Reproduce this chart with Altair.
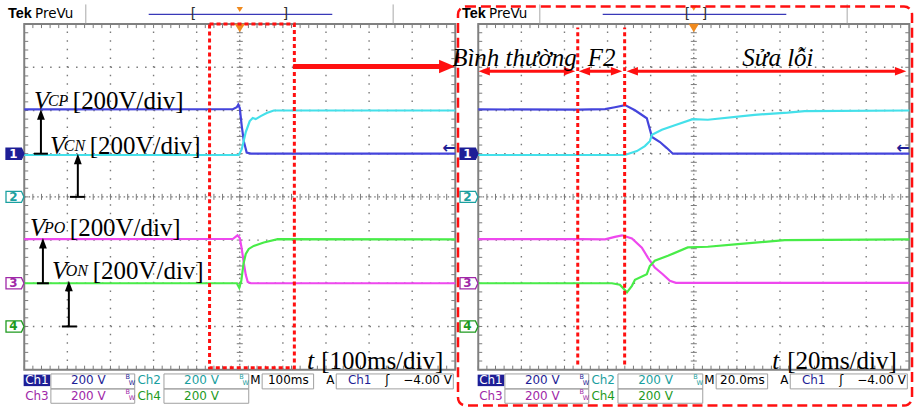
import numpy as np
import pandas as pd
import altair as alt

# ---------------- data ----------------
CHANNELS = ["Ch1", "Ch2", "Ch3", "Ch4"]
TRACE_COLORS = ["#4444DC", "#44E0EA", "#EE48EE", "#48EC48"]
CH_OFFSET_DIV = [1, 0, -2, -3]        # channel ground markers (divisions from centre)
VOLTS_PER_DIV = 200

# left screen: 100 ms/div, trigger at the centre (t = 0 ms)
L_T_CH1 = [-500, -16, -7, -3.5, 0, 4.6, 9.3, 16, 25.5, 500]
L_V_CH1 = [205, 206, 215, 227, 211, 128, 58, 5, 0, 0]
L_T_CH2 = [-500, -2.3, 4.6, 13.9, 23.1, 30.1, 37.0, 48.6, 62.5, 78.7, 500]
L_V_CH2 = [194, 194, 221, 300, 351, 365, 360, 374, 388, 400, 400]
L_T_CH3 = [-500, -16.2, -5.3, 0, 4.6, 9.3, 13.9, 18.5, 25.5, 500]
L_V_CH3 = [204, 205, 222, 210, 159, 94, 39, 6, 0, 0]
L_T_CH4 = [-500, -6.9, -1.2, 3.5, 8.6, 13.9, 20.8, 32.4, 55.6, 88.0, 500]
L_V_CH4 = [200, 200, 179, 211, 290, 336, 359, 373, 389, 404, 403]

# right screen: 20 ms/div
R_T_CH1 = [-100, -53.7, -41.2, -36.6, -31.9, -27.3, -21.8, -19.4, -15.7, -12.5, -9.7, 100]
R_V_CH1 = [205, 204, 206, 215, 225, 201, 164, 77, 54, 26, 0, 0]
R_T_CH2 = [-100, -32, -26.4, -22.7, -20.4, -19.4, -14.8, -8.8, -0.5, 6.5, 28.2, 43.5, 51.4, 100]
R_V_CH2 = [194, 194, 212, 235, 258, 288, 311, 332, 360, 357, 380, 390, 397, 400]
R_T_CH3 = [-100, -52.8, -41.2, -36.6, -33.3, -28.7, -24.1, -21.3, -18.1, -14.4, -11.1, -8.3, 100]
R_V_CH3 = [204, 204, 203, 215, 222, 207, 165, 119, 73, 42, 11, 2, 2]
R_T_CH4 = [-100, -38.0, -34.3, -31.0, -28.7, -27.3, -21.8, -20.4, -18.1, -12.0, -2.8, 6.5, 20.4, 42.1, 100]
R_V_CH4 = [200, 200, 193, 158, 188, 216, 242, 280, 304, 327, 366, 369, 381, 400, 403]

# status bar texts
ROW1_TEXT = ["Ch1", "200 V", "Ch2", "200 V", "M", "A", "Ch1", "ʃ", "−4.00 V"]
ROW2_TEXT = ["Ch3", "200 V", "Ch4", "200 V"]
TIMEBASE = ["100ms", "20.0ms"]
LABEL_SUBS = ["CP", "CN", "PO", "ON"]
UNIT_LABEL = "[200V/div]"
TIME_LABELS = ["[100ms/div]", "[20ms/div]"]
PHASE_LABELS = ["Bình thường", "F2", "Sửa lỗi"]

# ---------------- styling / geometry ----------------
NAVY, TEAL, MAG, GRN = "#1E1E96", "#1AA0A0", "#A028A8", "#1E9A1E"
RED, ORANGE, GRID, FRAME = "#FF1010", "#F08A1E", "#7a7a7a", "#808080"
SERIF, SANS = "Liberation Serif", "DejaVu Sans"
PXX, PXY = 43.2, 43.29
H = 409
YMAX = (4 * PXY + 22.7) / PXY
YMIN = YMAX - H / PXY

MARKER = "M-1,-0.62 L0.72,-0.62 L1,0 L0.72,0.62 L-1,0.62 Z"
TRI_UP = "M0,0 L0.75,2 L-0.75,2 Z"
TRI_RIGHT = "M0,0 L-2,-0.85 L-2,0.85 Z"
TRI_R_SMALL = "M0,0 L-2,-0.75 L-2,0.75 Z"
TRI_L_SMALL = "M0,0 L2,-0.75 L2,0.75 Z"
TRI_DOWN = "M-1,-0.8 L1,-0.8 L0,0.8 Z"


def trace_df(T, V, t0, ms_div):
    rows = []
    for k, ch in enumerate(CHANNELS):
        for i, (t, v) in enumerate(zip(T[k], V[k])):
            rows.append(dict(ch=ch, i=i, x=(t - t0) / ms_div,
                             y=CH_OFFSET_DIV[k] + v / VOLTS_PER_DIV))
    return pd.DataFrame(rows)


def build_panel(side):
    left = side == "L"
    width = 456 if left else 462
    x0 = 23.3 if left else 22.3
    xs = alt.Scale(domain=[-x0 / PXX, (width - x0) / PXX], nice=False, zero=False)
    ys = alt.Scale(domain=[YMIN, YMAX], nice=False, zero=False)
    L = []

    def X(f):
        return alt.X(f + ":Q", scale=xs, axis=None)

    def Y(f):
        return alt.Y(f + ":Q", scale=ys, axis=None)

    def rule(df, **mk):
        enc = {"x": X("x"), "y": Y("y")}
        if "x2" in df.columns:
            enc["x2"] = alt.X2("x2:Q")
        if "y2" in df.columns:
            enc["y2"] = alt.Y2("y2:Q")
        L.append(alt.Chart(df).mark_rule(**mk).encode(**enc))

    def text(df, **mk):
        enc = {"x": X("x"), "y": Y("y"), "text": alt.Text("text:N")}
        if "c" in df.columns:
            enc["color"] = alt.Color("c:N", scale=None)
        L.append(alt.Chart(df).mark_text(**mk).encode(**enc))

    def point(df, **mk):
        enc = {"x": X("x"), "y": Y("y")}
        if "f" in df.columns:
            enc["fill"] = alt.Fill("f:N", scale=None)
        if "s" in df.columns:
            enc["stroke"] = alt.Stroke("s:N", scale=None)
        L.append(alt.Chart(df).mark_point(**mk).encode(**enc))

    def rect(df, **mk):
        L.append(alt.Chart(df).mark_rect(**mk).encode(
            x=X("x"), x2=alt.X2("x2:Q"), y=Y("y"), y2=alt.Y2("y2:Q")))

    # ---- graticule ----
    gx = [x for x in range(1, 10) if x != 5]
    gy = [y for y in range(-3, 4) if y != 0]
    dots = [dict(x=x, x2=x, y=-4, y2=4) for x in gx] + \
           [dict(x=0, x2=10, y=y, y2=y) for y in gy]
    rule(pd.DataFrame(dots), color=GRID, strokeWidth=1.4, strokeDash=[1.5, 7.15])
    rule(pd.DataFrame([dict(x=5, x2=5, y=-4, y2=4), dict(x=0, x2=10, y=0, y2=0)]),
         color=GRID, strokeWidth=1.2, strokeDash=[1.5, 2.83])
    tx, ty = 4 / PXX, 4 / PXY
    ticks = []
    for x in np.round(np.arange(0, 10.001, 0.2), 3):
        ticks += [dict(x=x, x2=x, y=4, y2=4 - ty), dict(x=x, x2=x, y=-4, y2=-4 + ty),
                  dict(x=x, x2=x, y=-0.07, y2=0.07)]
    for y in np.round(np.arange(-4, 4.001, 0.2), 3):
        ticks += [dict(x=0, x2=tx, y=y, y2=y), dict(x=10, x2=10 - tx, y=y, y2=y),
                  dict(x=4.93, x2=5.07, y=y, y2=y)]
    rule(pd.DataFrame(ticks), color=GRID, strokeWidth=1)
    rect(pd.DataFrame([dict(x=0, x2=10, y=-4, y2=4)]), fillOpacity=0, stroke=FRAME, strokeWidth=2)

    # ---- traces ----
    if left:
        tdf = trace_df([L_T_CH1, L_T_CH2, L_T_CH3, L_T_CH4],
                       [L_V_CH1, L_V_CH2, L_V_CH3, L_V_CH4], -500, 100)
    else:
        tdf = trace_df([R_T_CH1, R_T_CH2, R_T_CH3, R_T_CH4],
                       [R_V_CH1, R_V_CH2, R_V_CH3, R_V_CH4], -100, 20)
    L.append(alt.Chart(tdf).mark_line(strokeWidth=2.2).encode(
        x=X("x"), y=Y("y"),
        color=alt.Color("ch:N", scale=alt.Scale(domain=CHANNELS, range=TRACE_COLORS), legend=None),
        order=alt.Order("i:Q")))

    # ---- channel markers ----
    point(pd.DataFrame(dict(x=[-0.215] * 4, y=CH_OFFSET_DIV,
                            f=[NAVY, "white", "white", "white"],
                            s=[NAVY, TEAL, MAG, GRN])),
          shape=MARKER, size=324, strokeWidth=1.3, opacity=1, fillOpacity=1)
    text(pd.DataFrame(dict(x=[-0.25] * 4, y=CH_OFFSET_DIV, text=["1", "2", "3", "4"],
                           c=["white", TEAL, MAG, GRN])),
         font=SANS, fontSize=12, fontWeight="bold", align="center", baseline="middle")
    text(pd.DataFrame(dict(x=[9.85], y=[1.13], text=["←"])),
         font=SANS, fontSize=16, color=NAVY, align="center", baseline="middle", fontWeight="bold")

    # ---- top bar ----
    text(pd.DataFrame(dict(x=[-0.377], y=[4.224], text=["Tek"])),
         font="Liberation Sans", fontSize=14.5, fontWeight="bold", color="black",
         align="left", baseline="middle")
    text(pd.DataFrame(dict(x=[0.25], y=[4.224], text=["PreVu"])),
         font=SANS, fontSize=13.5, color="black", align="left", baseline="middle")
    rule(pd.DataFrame([dict(x=1.428, y=4.016, y2=4.455), dict(x=8.558, y=4.016, y2=4.455)]),
         color="#a8a8a8", strokeWidth=1)
    rule(pd.DataFrame([dict(x=2.887, x2=7.146, y=4.224)]), color="#3838B8", strokeWidth=1.2)
    bx = [3.928, 6.058] if left else [4.854, 5.248]
    text(pd.DataFrame(dict(x=bx, y=[4.224, 4.224], text=["[", "]"])),
         font=SANS, fontSize=14, color="#303030", align="center", baseline="middle")
    point(pd.DataFrame(dict(x=[5.0], y=[4.34 if left else 4.37])),
          shape=TRI_DOWN, size=40, filled=True, color=ORANGE, strokeWidth=0, opacity=1)
    point(pd.DataFrame(dict(x=[5.0], y=[3.91])),
          shape=TRI_DOWN, size=110, filled=True, color=ORANGE, strokeWidth=0, opacity=1)

    # ---- bottom status bar ----
    r1, r2 = -4.234, -4.605
    rect(pd.DataFrame([dict(x=-0.014, x2=0.602, y=-4.381, y2=-4.115)]), color=NAVY)
    boxes = [dict(x=0.618, x2=2.563, y=-4.445, y2=-4.099), dict(x=3.241, x2=5.208, y=-4.445, y2=-4.099),
             dict(x=0.618, x2=2.563, y=-4.778, y2=-4.445), dict(x=3.241, x2=5.208, y=-4.778, y2=-4.445),
             dict(x=5.519, x2=6.713, y=-4.445, y2=-4.099), dict(x=7.238, x2=9.954, y=-4.445, y2=-4.099)]
    rect(pd.DataFrame(boxes), fillOpacity=0, stroke="#a0a0a0", strokeWidth=1)
    row1 = ROW1_TEXT[:5] + [TIMEBASE[0 if left else 1]] + ROW1_TEXT[5:]
    sdf = pd.DataFrame(dict(
        x=[0.294, 1.486, 2.898, 4.113, 5.363, 6.127, 7.100, 7.782, 8.419, 9.356] + [0.294, 1.486, 2.898, 4.113],
        y=[r1] * 10 + [r2] * 4,
        text=row1 + ROW2_TEXT,
        c=["white", NAVY, TEAL, TEAL, "black", "black", "black", NAVY, "black", "black", MAG, MAG, GRN, GRN]))
    text(sdf, font=SANS, fontSize=12, align="center", baseline="middle")
    bw = pd.DataFrame(dict(x=[2.40, 2.50, 5.04, 5.14, 2.40, 2.50],
                           y=[-4.161, -4.30, -4.161, -4.30, -4.508, -4.646],
                           text=["B", "W", "B", "W", "B", "W"],
                           c=[NAVY, NAVY, TEAL, TEAL, MAG, MAG]))
    text(bw, font=SANS, fontSize=6.5, align="center", baseline="middle")

    # ---- annotations ----
    if left:
        lab = pd.DataFrame(dict(x=[0.225, 0.595, 0.132, 0.641], y=[2.214, 1.175, -0.719, -1.712],
                                text=["V"] * 4))
        text(lab, font=SERIF, fontSize=25, fontStyle="italic", color="black", align="left")
        text(pd.DataFrame(dict(x=[0.549, 0.919, 0.456, 0.965], y=[2.214, 1.175, -0.719, -1.712],
                               text=LABEL_SUBS)),
             font=SERIF, fontSize=16, fontStyle="italic", color="black", align="left")
        text(pd.DataFrame(dict(x=[1.127, 1.521, 1.058, 1.590], y=[2.214, 1.175, -0.719, -1.712],
                               text=[UNIT_LABEL] * 4)),
             font=SERIF, fontSize=25, color="black", align="left")
        # black measurement arrows
        ax = [0.387, 1.243, 0.433, 1.035]
        tee_a = [0.225, 1.058, 0.294, 0.873]
        tee_b = [0.549, 1.405, 0.572, 1.220]
        y0 = [1.0, 0.0, -2.0, -3.0]
        y1 = [2.03, 1.0, -0.95, -1.94]
        rule(pd.DataFrame(dict(x=ax, y=y0, y2=[v - 0.1 for v in y1])), color="black", strokeWidth=2)
        rule(pd.DataFrame(dict(x=tee_a, x2=tee_b, y=y0)), color="black", strokeWidth=2)
        point(pd.DataFrame(dict(x=ax, y=y1)), shape=TRI_UP, size=110, filled=True,
              color="black", strokeWidth=0, opacity=1)
        # red zoom window and arrow
        rect(pd.DataFrame([dict(x=4.299, x2=6.266, y=-3.953, y2=4.0)]), fillOpacity=0,
             stroke=RED, strokeWidth=3, strokeDash=[4, 3])
        rule(pd.DataFrame([dict(x=6.24, x2=9.75, y=3.02)]), color=RED, strokeWidth=5)
        point(pd.DataFrame(dict(x=[9.993], y=[3.02])), shape=TRI_RIGHT, size=256, filled=True,
              color=RED, strokeWidth=0, opacity=1)
        tx_, tb_ = 6.567, 6.891
    else:
        rect(pd.DataFrame([dict(x=-0.470, x2=10.063, y=-4.831, y2=4.409)]), fillOpacity=0,
             stroke=RED, strokeWidth=2.5, strokeDash=[10, 5], cornerRadius=8)
        rule(pd.DataFrame([dict(x=2.308, y=-3.88, y2=3.924), dict(x=3.396, y=-3.88, y2=3.924)]),
             color=RED, strokeWidth=3, strokeDash=[4, 3])
        sa = [0.005, 2.33, 3.44]
        sb = [2.25, 3.34, 9.93]
        rule(pd.DataFrame(dict(x=[a + 0.1 for a in sa], x2=[b - 0.1 for b in sb], y=[2.907] * 3)),
             color=RED, strokeWidth=3)
        point(pd.DataFrame(dict(x=sb, y=[2.907] * 3)), shape=TRI_R_SMALL, size=130, filled=True,
              color=RED, strokeWidth=0, opacity=1)
        point(pd.DataFrame(dict(x=sa, y=[2.907] * 3)), shape=TRI_L_SMALL, size=130, filled=True,
              color=RED, strokeWidth=0, opacity=1)
        text(pd.DataFrame(dict(x=[2.285], y=[3.208], text=[PHASE_LABELS[0]])),
             font=SERIF, fontSize=25, fontStyle="italic", color="black", align="right")
        text(pd.DataFrame(dict(x=[2.539, 6.127], y=[3.208, 3.208], text=PHASE_LABELS[1:])),
             font=SERIF, fontSize=25, fontStyle="italic", color="black", align="left")
        tx_, tb_ = 6.822, 7.169
    text(pd.DataFrame(dict(x=[tx_], y=[-3.792], text=["t"])),
         font=SERIF, fontSize=25, fontStyle="italic", color="black", align="left")
    text(pd.DataFrame(dict(x=[tb_], y=[-3.792], text=[TIME_LABELS[0 if left else 1]])),
         font=SERIF, fontSize=25, color="black", align="left")

    return alt.layer(*L).properties(width=width, height=H)


chart = alt.hconcat(build_panel("L"), build_panel("R"), spacing=0, bounds="flush").properties(
    padding=0, background="white"
).configure_view(stroke="transparent")

chart.save("out.html", embed_options={"renderer": "svg", "actions": False})
